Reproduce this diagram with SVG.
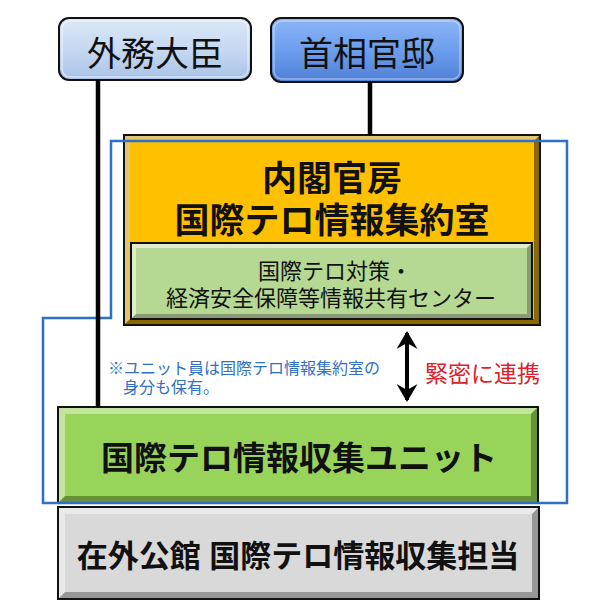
<svg xmlns="http://www.w3.org/2000/svg" width="613" height="609" viewBox="0 0 613 609">
<defs>
<linearGradient id="gLightBlue" x1="0" y1="0" x2="0" y2="1">
<stop offset="0" stop-color="#DCE8F8"/><stop offset="0.5" stop-color="#C6D9F1"/><stop offset="1" stop-color="#A9C2E6"/>
</linearGradient>
<linearGradient id="gBlue" x1="0" y1="0" x2="0" y2="1">
<stop offset="0" stop-color="#8DB6F5"/><stop offset="0.5" stop-color="#6C9EEE"/><stop offset="1" stop-color="#4F7FD6"/>
</linearGradient>
<marker id="ah" viewBox="0 0 18 21" refX="16" refY="10.5" markerWidth="4.5" markerHeight="5.25" orient="auto-start-reverse" markerUnits="strokeWidth">
<path d="M0,0 L18,10.5 L0,21 L6,10.5 Z" fill="#000"/>
</marker>
</defs>
<style>
.jp{font-family:"Liberation Sans","Noto Sans CJK JP","Noto Sans CJK SC",sans-serif;text-anchor:middle;fill:#111}
.b{font-weight:bold}
.edge{stroke:#111;stroke-width:2}
.lt{fill:#fff;opacity:0.45}
.dk{fill:#000;opacity:0.3}
.conn{stroke:#000;stroke-width:4.5;fill:none}
.note{font-family:"Liberation Sans","Noto Sans CJK JP",sans-serif;font-size:16px;fill:#2F6FC6}
</style>
<rect width="613" height="609" fill="#fff"/>

<g id="gaimu-daijin">
<rect x="59" y="18" width="192" height="62" rx="10" fill="url(#gLightBlue)" class="edge" stroke-width="2.5"/>
<rect x="62" y="21" width="186" height="56" rx="8" fill="none" stroke="#fff" stroke-opacity="0.5" stroke-width="1.5"/>
<text x="155" y="66" class="jp" font-size="34">外務大臣</text>
</g>

<g id="shusho-kantei">
<rect x="271" y="18" width="192" height="64" rx="10" fill="url(#gBlue)" class="edge" stroke-width="2.5"/>
<rect x="274" y="21" width="186" height="58" rx="8" fill="none" stroke="#fff" stroke-opacity="0.4" stroke-width="1.5"/>
<text x="367" y="66" class="jp" font-size="34">首相官邸</text>
</g>

<g id="naikaku-kanbo">
<rect x="124" y="135" width="416" height="190" fill="#C89600" class="edge" stroke-width="1.5"/>
<polygon points="125,136 539,136 534,141 130,141" class="lt"/>
<polygon points="125,136 130,141 130,319 125,324" class="lt"/>
<polygon points="539,136 539,324 534,319 534,141" class="dk"/>
<polygon points="125,324 539,324 534,319 130,319" class="dk"/>
<rect x="130" y="141" width="404" height="178" fill="#FFC000"/>
<text x="332" y="191" class="jp b" font-size="35">内閣官房</text>
<text x="332" y="233" class="jp b" font-size="35">国際テロ情報集約室</text>
</g>

<g id="info-center">
<rect x="131" y="243" width="401" height="76" fill="#C3DFA7" class="edge" stroke-width="1.5"/>
<polygon points="132,244 531,244 527,248 136,248" class="lt"/>
<polygon points="132,244 136,248 136,314 132,318" class="lt"/>
<polygon points="531,244 531,318 527,314 527,248" class="dk"/>
<polygon points="132,318 531,318 527,314 136,314" class="dk"/>
<rect x="136" y="248" width="391" height="66" fill="#B5D993"/>
<text x="335" y="279" class="jp" font-size="22">国際テロ対策・</text>
<text x="331" y="306" class="jp" font-size="22">経済安全保障等情報共有センター</text>
</g>

<g id="unit">
<rect x="58" y="407" width="480" height="96" fill="#92D050" class="edge" stroke-width="2"/>
<polygon points="59,408 537,408 531,414 65,414" class="lt"/>
<polygon points="59,408 65,414 65,496 59,502" class="lt"/>
<polygon points="537,408 537,502 531,496 531,414" class="dk"/>
<polygon points="59,502 537,502 531,496 65,496" class="dk"/>
<rect x="65" y="414" width="466" height="82" fill="#98D45A"/>
<text x="299" y="470" class="jp b" font-size="33">国際テロ情報収集ユニット</text>
</g>

<g id="zaigai-kokan">
<rect x="58" y="507" width="481" height="92" fill="#D9D9D9" class="edge" stroke-width="2"/>
<polygon points="59,508 538,508 532,514 65,514" class="lt"/>
<polygon points="59,508 65,514 65,592 59,598" class="lt"/>
<polygon points="538,508 538,598 532,592 532,514" class="dk"/>
<polygon points="59,598 538,598 532,592 65,592" class="dk"/>
<rect x="65" y="514" width="467" height="78" fill="#D9D9D9"/>
<text x="298" y="567" class="jp b" font-size="31">在外公館 国際テロ情報収集担当</text>
</g>

<g id="frame">
<path d="M111,141 H567 V503 H43 V318 H111 Z" fill="none" stroke="#2F6FC6" stroke-width="2.5"/>
</g>

<g id="note">
<text x="108" y="374" class="note">※ユニット員は国際テロ情報集約室の</text>
<text x="123" y="392.5" class="note">身分も保有。</text>
<text x="425" y="382" font-family="Liberation Sans,Noto Sans CJK JP,sans-serif" font-size="23" fill="#E0202A">緊密に連携</text>
</g>

<g id="connectors">
<line x1="98" y1="80" x2="98" y2="407" class="conn"/>
<line x1="370" y1="82" x2="370" y2="135" class="conn"/>
<line x1="407" y1="333" x2="407" y2="400" stroke="#000" stroke-width="4" marker-start="url(#ah)" marker-end="url(#ah)"/>
</g>
</svg>
